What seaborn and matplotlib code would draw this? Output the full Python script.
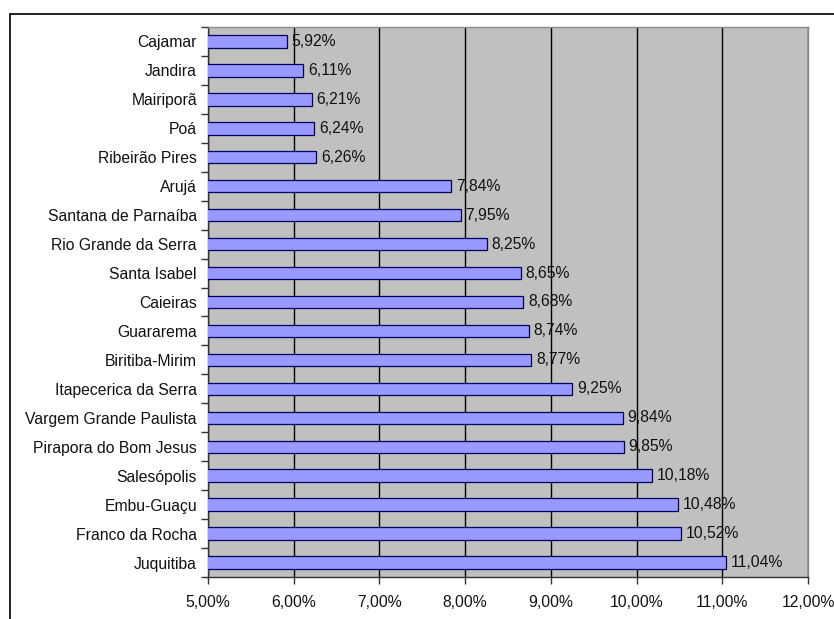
import matplotlib
matplotlib.use("Agg")
import matplotlib.pyplot as plt
import seaborn as sns
import pandas as pd
from matplotlib.ticker import MultipleLocator, FuncFormatter

municipios = ["Cajamar", "Jandira", "Mairiporã", "Poá", "Ribeirão Pires", "Arujá",
              "Santana de Parnaíba", "Rio Grande da Serra", "Santa Isabel", "Caieiras",
              "Guararema", "Biritiba-Mirim", "Itapecerica da Serra", "Vargem Grande Paulista",
              "Pirapora do Bom Jesus", "Salesópolis", "Embu-Guaçu", "Franco da Rocha", "Juquitiba"]
valores = [5.92, 6.11, 6.21, 6.24, 6.26, 7.84, 7.95, 8.25, 8.65, 8.68,
           8.74, 8.77, 9.25, 9.84, 9.85, 10.18, 10.48, 10.52, 11.04]

df = pd.DataFrame({"municipio": municipios, "valor": valores})

sns.set_style("white")
plt.rcParams["font.family"] = ["Liberation Sans", "DejaVu Sans"]

FS = 11.3

fig = plt.figure(figsize=(8.34, 6.19), dpi=100)
ax = fig.add_axes([208/834, 1 - 577/619, 600/834, 550/619])
ax.set_facecolor("#C0C0C0")

sns.barplot(data=df, x="valor", y="municipio", orient="h", ax=ax,
            color="#9999FF", saturation=1, width=0.43,
            edgecolor="#000060", linewidth=0.9, zorder=3)

ax.set_xlim(5, 12)
ax.set_ylim(len(municipios) - 0.5, -0.5)
ax.xaxis.set_major_locator(MultipleLocator(1))
ax.xaxis.set_major_formatter(FuncFormatter(lambda v, p: f"{v:.2f}%".replace(".", ",")))
ax.grid(axis="x", color="black", linewidth=1, zorder=1)
ax.set_axisbelow(True)
ax.set_xlabel("")
ax.set_ylabel("")

# Excel-style ticks between categories
ax.set_yticks(range(len(municipios)))
ax.set_yticks([i - 0.5 for i in range(len(municipios) + 1)], minor=True)
ax.tick_params(axis="y", which="major", length=0, labelsize=FS, pad=8, colors="#111111")
ax.tick_params(axis="y", which="minor", length=5, width=1, color="#333333", direction="out", left=True)
ax.tick_params(axis="x", which="major", length=5, width=1, color="#333333", direction="out",
               bottom=True, labelsize=FS, pad=8, labelcolor="#111111")

for s in ["left", "bottom"]:
    ax.spines[s].set_color("#333333")
    ax.spines[s].set_linewidth(1)
for s in ["top", "right"]:
    ax.spines[s].set_color("#8a8a8a")
    ax.spines[s].set_linewidth(1)

for i, v in enumerate(valores):
    ax.annotate(f"{v:.2f}%".replace(".", ","), xy=(v, i), xytext=(3.5, 0),
                textcoords="offset points", va="center", ha="left",
                fontsize=FS, color="#111111", zorder=4)

# figure border (top and left visible)
fig.add_artist(plt.Line2D([10/834, 1.0], [1 - 14/619, 1 - 14/619], transform=fig.transFigure, color="black", linewidth=1.2))
fig.add_artist(plt.Line2D([10/834, 10/834], [0, 1 - 14/619], transform=fig.transFigure, color="black", linewidth=1.2))

fig.savefig("out.png", dpi=100)
